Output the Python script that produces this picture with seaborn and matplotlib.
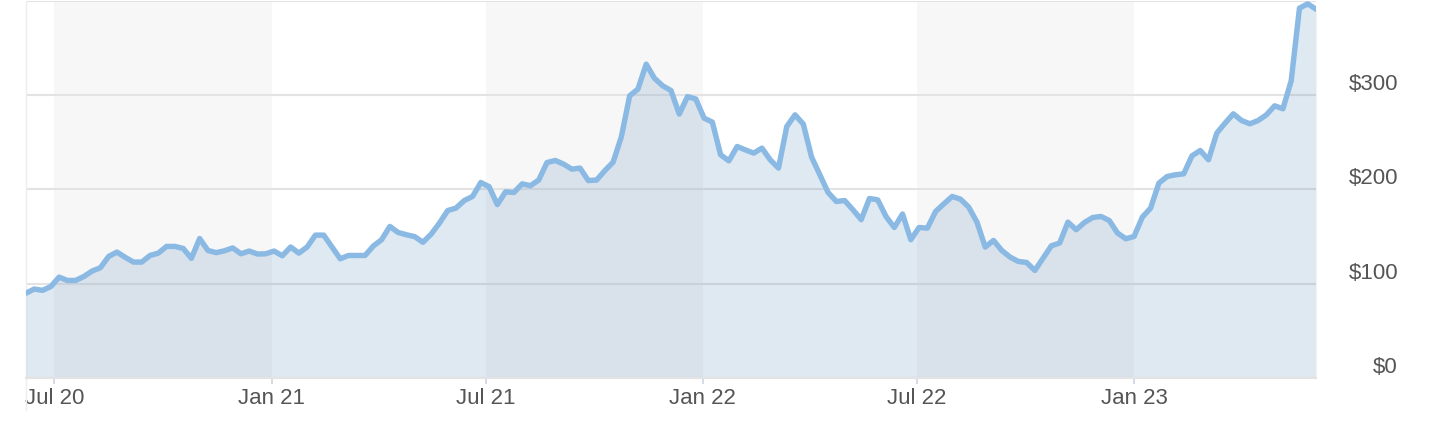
import pandas as pd
import numpy as np
import matplotlib
matplotlib.use("Agg")
import matplotlib.pyplot as plt
import matplotlib.dates as mdates
import seaborn as sns

# weekly closing price
START_DATE = "2020-06-07"
PRICES = [
    90, 94.4, 93, 97, 107, 103.5, 103.5, 107.7, 113.5, 117,
    129, 133.6, 128, 123, 123, 130, 132.5, 139.6, 139.6, 137.5,
    127, 148, 135.3, 133, 135, 138, 131.8, 134.7, 131.5, 131.8,
    134.7, 129.7, 139, 132.5, 139, 151.6, 151.6, 139, 126.5, 130,
    130, 130, 140, 146.7, 160.8, 154.4, 152, 150, 144, 152.7,
    164.4, 177.7, 180.3, 188.3, 192.6, 207.4,
    203, 184, 197.6, 196.8, 206, 204, 210, 228.6, 230.8, 227,
    221.6, 222.7, 209.5, 210, 220, 229, 256, 299.4, 306.5, 333,
    318, 310, 305, 280, 298.6, 296, 275.7, 271.5, 236.8, 230.4,
    245.6, 242, 238.6, 243.9, 231.5, 222.7, 266.8, 279.2, 269.4, 234.4,
    215.6, 196.8, 187.3, 188.3, 178.5, 168, 190.5, 189, 171.4, 159.7,
    174, 146.7, 159.7, 159, 176.7, 184.8, 192.6, 189.8,
    181.3, 165.4, 138.9, 146, 135.3, 128.3, 123.7, 122.6, 114.1, 127.3,
    140.3, 143.2, 165.4, 157.3, 165, 170.3, 171.4, 167.1, 153.8, 147.7,
    150.2, 170.7, 180.3, 206.8, 213.8, 215.6, 216.6, 235.7, 241.4, 231.5,
    259.8, 270.4, 280.3, 273.2, 269.7, 273.2, 279.2, 288.8, 285.6, 315.3,
    392.4, 397, 391.3,
]

# shaded half-years (Jul -> Jan)
BAND_STARTS = ["2020-07-01", "2021-07-01", "2022-07-01"]
BAND_ENDS   = ["2021-01-01", "2022-01-01", "2023-01-01"]

Y_TICKS  = [0, 100, 200, 300, 400]
Y_LABELS = ["$0", "$100", "$200", "$300", ""]

LINE_COLOR = "#8ab9e4"
FILL_COLOR = "#5385b7"
TEXT_COLOR = "#555555"

df = pd.DataFrame({
    "date": pd.date_range(START_DATE, periods=len(PRICES), freq="7D"),
    "price": PRICES,
})

sns.set_theme(style="white")
plt.rcParams["font.family"] = ["Liberation Sans", "DejaVu Sans"]

fig = plt.figure(figsize=(14.36, 4.23), dpi=100)
ax = fig.add_axes([26 / 1436, 1 - 378 / 423, 1290 / 1436, 377 / 423])

for s, e in zip(BAND_STARTS, BAND_ENDS):
    ax.axvspan(pd.Timestamp(s), pd.Timestamp(e), color="#f7f7f7", zorder=0, lw=0)

ax.fill_between(df["date"], df["price"], 0, color=FILL_COLOR, alpha=0.18,
                lw=0, zorder=2)
sns.lineplot(data=df, x="date", y="price", ax=ax, color=LINE_COLOR,
             linewidth=3.9, zorder=3)

ax.set_xlim(df["date"].iloc[0], df["date"].iloc[-1])
ax.set_ylim(0, 400)
ax.set_xlabel("")
ax.set_ylabel("")

# y axis: labels on the right, sitting just above each gridline
ax.set_yticks(Y_TICKS)
ax.set_yticklabels(Y_LABELS)
ax.yaxis.tick_right()
ax.tick_params(axis="y", length=0, pad=59, labelsize=16, labelcolor=TEXT_COLOR)
for lbl in ax.get_yticklabels():
    lbl.set_horizontalalignment("right")
    lbl.set_verticalalignment("bottom")
ax.grid(axis="y", color="#e3e3e3", lw=1.5)
ax.set_axisbelow(True)

# x axis: Jan / Jul ticks
ax.xaxis.set_major_locator(mdates.MonthLocator(bymonth=[1, 7]))
ax.xaxis.set_major_formatter(mdates.DateFormatter("%b %y"))
ax.tick_params(axis="x", bottom=True, length=4.5, width=1.2, color="#c8d6e4",
               direction="out", pad=3, labelsize=16, labelcolor=TEXT_COLOR)

for side in ["top", "right"]:
    ax.spines[side].set_visible(False)
ax.spines["bottom"].set_color("#e3e3e3")
ax.spines["bottom"].set_linewidth(1.5)
ax.spines["left"].set_visible(False)
# faint left edge running down past the axis
ax.plot([0, 0], [-0.085, 1], transform=ax.transAxes, color="#eeeeee",
        lw=1, clip_on=False, zorder=1)

fig.savefig("out.png", dpi=100)
print("Saved: out.png")
